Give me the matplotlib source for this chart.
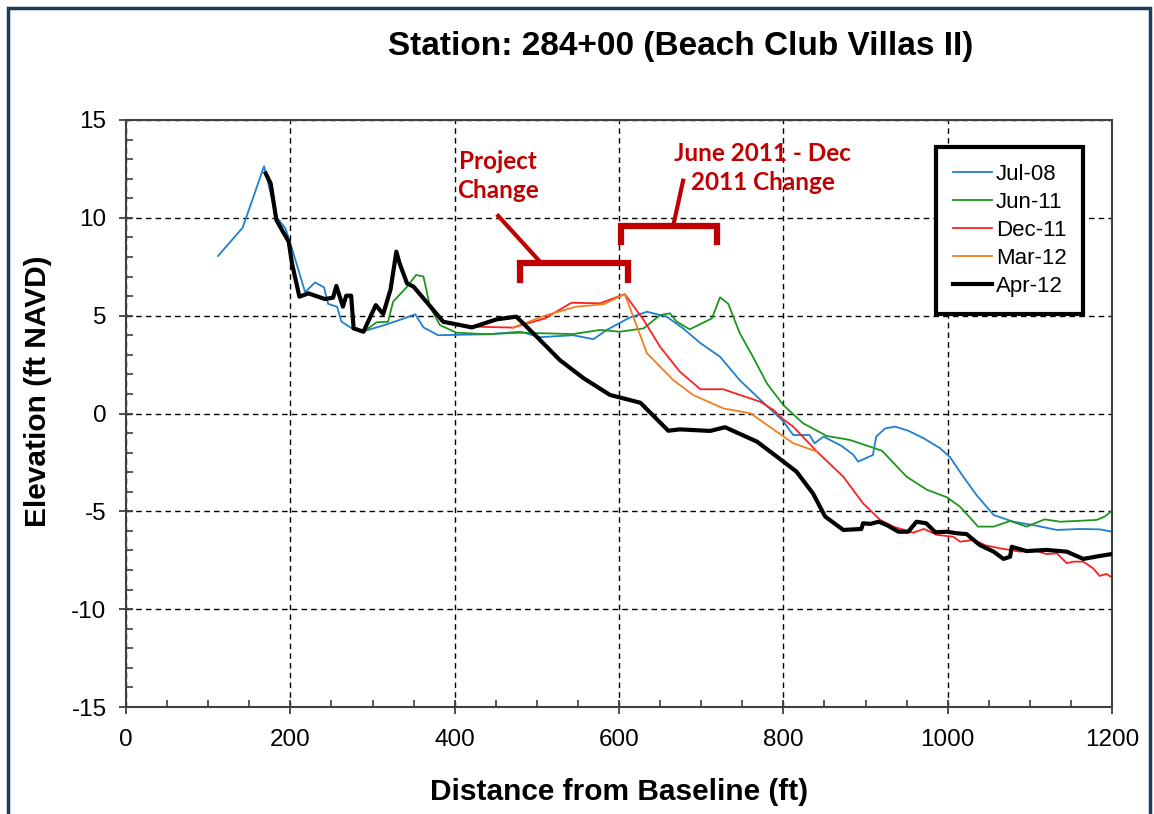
import matplotlib
matplotlib.use('Agg')
import matplotlib.pyplot as plt
from matplotlib.patches import Rectangle
from matplotlib.ticker import MultipleLocator

plt.rcParams['font.family'] = ['Liberation Sans', 'DejaVu Sans']
plt.rcParams['axes.unicode_minus'] = False

# survey profiles, distance (ft) vs elevation (ft NAVD)
jul08_x = [112, 142, 168, 183, 194, 200, 218, 230, 241, 246, 257, 262, 275, 289, 313, 333, 352, 362, 380, 402,
           440, 480, 504, 544, 569, 585, 613, 634, 658, 678, 699, 723, 747, 772, 800, 812, 832, 838, 849, 871,
           885, 891, 909, 913, 924, 936, 952, 971, 991, 1003, 1019, 1035, 1056, 1080, 1104, 1133, 1161, 1185, 1200]
jul08_y = [8.05, 9.5, 12.64, 10.05, 9.46, 8.7, 6.2, 6.7, 6.45, 5.6, 5.45, 4.7, 4.35, 4.2, 4.5, 4.78, 5.07, 4.4, 4.0, 4.02,
           4.05, 4.18, 3.9, 4.0, 3.8, 4.27, 4.9, 5.2, 4.95, 4.35, 3.6, 2.9, 1.7, 0.7, -0.4, -1.1, -1.1, -1.52, -1.18, -1.66,
           -2.1, -2.46, -2.12, -1.18, -0.76, -0.67, -0.88, -1.27, -1.78, -2.24, -3.23, -4.16, -5.19, -5.53, -5.7, -5.95, -5.9, -5.92, -6.04]

jun11_x = [289, 305, 319, 325, 342, 353, 362, 370, 382, 402, 439, 479, 544, 577, 601, 630, 650, 662, 670, 686,
           713, 723, 733, 747, 763, 780, 800, 824, 853, 881, 920, 950, 975, 999, 1015, 1037, 1056, 1076, 1096, 1118,
           1137, 1181, 1191, 1200]
jun11_y = [4.18, 4.66, 4.69, 5.71, 6.48, 7.08, 7.0, 5.46, 4.52, 4.13, 4.05, 4.13, 4.06, 4.27, 4.18, 4.35, 5.03, 5.12, 4.7, 4.3,
           4.86, 5.94, 5.6, 4.1, 2.9, 1.54, 0.43, -0.5, -1.15, -1.35, -1.9, -3.23, -3.9, -4.28, -4.76, -5.78, -5.78, -5.49, -5.78, -5.41,
           -5.53, -5.44, -5.27, -4.97]

dec11_x = [421, 471, 510, 542, 577, 607, 630, 650, 674, 699, 727, 747, 772, 788, 800, 812, 841, 873, 897, 918,
           934, 958, 971, 987, 1007, 1015, 1031, 1047, 1064, 1088, 1104, 1120, 1133, 1145, 1153, 1165, 1177, 1185, 1193, 1200]
dec11_y = [4.44, 4.39, 4.86, 5.66, 5.63, 6.1, 4.78, 3.41, 2.14, 1.24, 1.24, 0.95, 0.6, 0.18, -0.3, -0.67, -1.95, -3.23, -4.59, -5.44,
           -5.78, -6.09, -5.9, -6.2, -6.3, -6.55, -6.46, -6.75, -6.89, -7.06, -6.97, -7.18, -7.15, -7.65, -7.57, -7.57, -7.91, -8.3, -8.2, -8.37]

mar12_x = [471, 512, 548, 581, 607, 634, 666, 690, 727, 760, 796, 812, 841]
mar12_y = [4.39, 5.03, 5.46, 5.58, 6.1, 3.08, 1.71, 0.95, 0.26, 0.01, -1.05, -1.52, -1.95]

apr12_x = [170, 176, 183, 191, 198, 202, 211, 222, 242, 252, 256, 264, 268, 274, 277, 289, 304, 313, 322, 329,
           333, 342, 350, 374, 386, 421, 451, 475, 500, 528, 557, 589, 626, 660, 674, 711, 729, 768, 792, 816,
           836, 851, 873, 895, 897, 906, 916, 926, 940, 952, 962, 974, 985, 999, 1011, 1023, 1039, 1056, 1068, 1076,
           1078, 1096, 1120, 1145, 1165, 1185, 1200]
apr12_y = [12.27, 11.76, 9.89, 9.29, 8.78, 7.67, 5.97, 6.14, 5.85, 5.92, 6.52, 5.46, 6.02, 6.02, 4.35, 4.18, 5.54, 5.08, 6.35, 8.27,
           7.67, 6.65, 6.48, 5.29, 4.69, 4.4, 4.81, 4.95, 3.92, 2.73, 1.8, 0.95, 0.55, -0.88, -0.81, -0.89, -0.7, -1.44, -2.2, -2.97,
           -4.08, -5.27, -5.95, -5.9, -5.61, -5.64, -5.53, -5.7, -6.04, -6.04, -5.53, -5.61, -6.07, -6.04, -6.12, -6.16, -6.72, -7.06, -7.43, -7.32,
           -6.81, -7.03, -6.97, -7.06, -7.43, -7.28, -7.18]

fig = plt.figure(figsize=(11.54, 8.14), dpi=100)
ax = fig.add_axes([0.1092, 0.1314, 0.8544, 0.7212])

ax.plot(jul08_x, jul08_y, color='#1f7fd0', lw=1.3, label='Jul-08')
ax.plot(jun11_x, jun11_y, color='#1d961d', lw=1.3, label='Jun-11')
ax.plot(dec11_x, dec11_y, color='#ff1f1f', lw=1.3, label='Dec-11')
ax.plot(mar12_x, mar12_y, color='#f07f1f', lw=1.3, label='Mar-12')
ax.plot(apr12_x, apr12_y, color='black', lw=3.0, label='Apr-12', zorder=5)

ax.set_xlim(0, 1200)
ax.set_ylim(-15, 15)
ax.xaxis.set_major_locator(MultipleLocator(200))
ax.xaxis.set_minor_locator(MultipleLocator(50))
ax.yaxis.set_major_locator(MultipleLocator(5))
ax.yaxis.set_minor_locator(MultipleLocator(1))
ax.tick_params(which='major', direction='inout', length=10, width=1.3, labelsize=17.5, color='#404040')
ax.tick_params(axis='x', which='major', pad=11)
ax.tick_params(axis='y', which='major', pad=9)
ax.tick_params(which='minor', direction='in', length=5, width=1.2, color='#404040')
for s in ax.spines.values():
    s.set_linewidth(1.5)
    s.set_color('#404040')
ax.grid(True, which='major', color='black', ls=(0, (4, 3)), lw=1.0)

ax.set_xlabel('Distance from Baseline (ft)', fontsize=21.5, fontweight='bold', labelpad=19)
ax.set_ylabel('Elevation (ft NAVD)', fontsize=21.5, fontweight='bold')
ax.yaxis.set_label_coords(-0.075, 0.538)
fig.text(0.59, 0.943, 'Station: 284+00 (Beach Club Villas II)', fontsize=24, fontweight='bold',
         ha='center', va='center')

# annotation brackets
red = '#c00000'
ax.plot([480, 480, 611, 611], [6.8, 7.68, 7.68, 6.8], color=red, lw=4.5, solid_joinstyle='miter', zorder=6)
ax.plot([453, 504], [10.1, 7.75], color=red, lw=3, zorder=6)
ax.plot([602, 602, 719, 719], [8.75, 9.58, 9.58, 8.75], color=red, lw=4.5, solid_joinstyle='miter', zorder=6)
ax.plot([666, 678], [9.6, 11.9], color=red, lw=3, zorder=6)
ax.text(453, 12.14, 'Project\nChange', color=red, fontsize=17.5, fontweight='bold', family=['Lato', 'DejaVu Sans'],
        ha='center', va='center', linespacing=1.3)
ax.text(775, 12.54, 'June 2011 - Dec\n2011 Change', color=red, fontsize=17.5, fontweight='bold',
        family=['Lato', 'DejaVu Sans'], ha='center', va='center', linespacing=1.3)

leg = ax.legend(loc='upper right', bbox_to_anchor=(0.971, 0.954), fontsize=16, fancybox=False,
                framealpha=1, edgecolor='black', handlelength=1.75, labelspacing=0.32, borderpad=0.75,
                handletextpad=0.2, borderaxespad=0)
leg.get_frame().set_linewidth(3)

# outer frame
fig.patches.append(Rectangle((8 / 1154, -0.1), 1142 / 1154, 1.1 - 8 / 814, transform=fig.transFigure,
                             fill=False, edgecolor='#1f3a5f', lw=2.5, clip_on=False))

fig.savefig('out.png', dpi=100)
